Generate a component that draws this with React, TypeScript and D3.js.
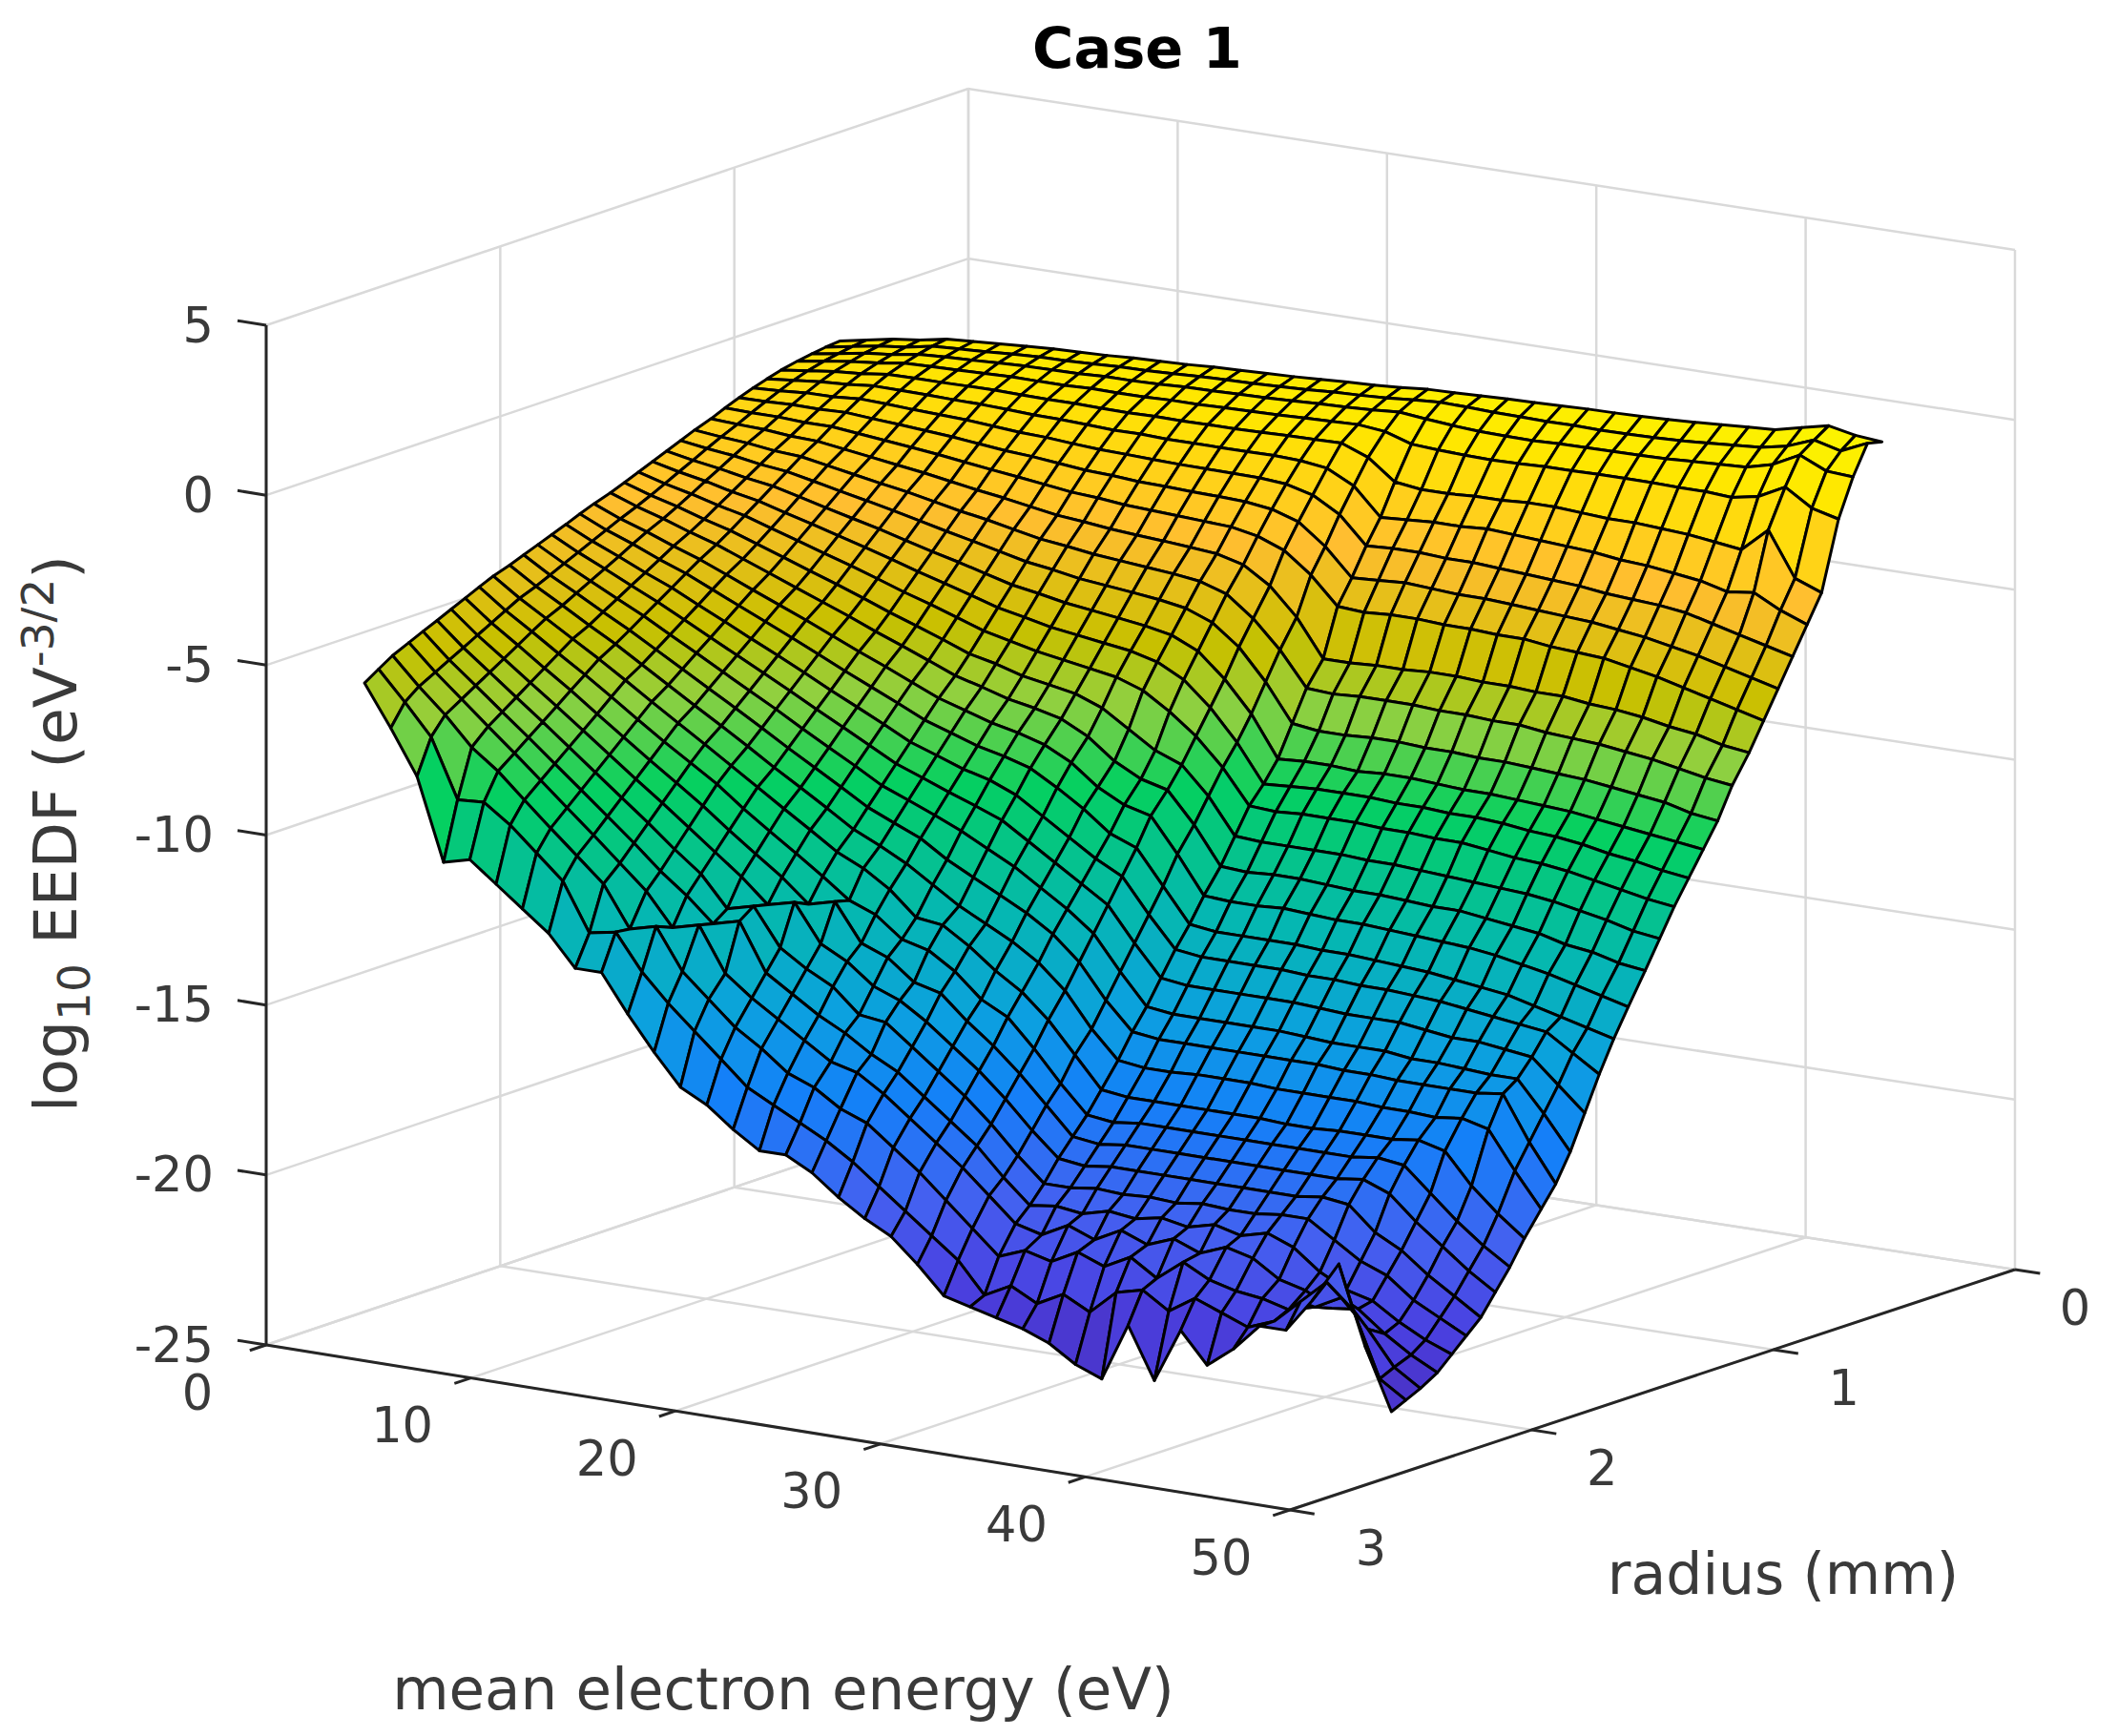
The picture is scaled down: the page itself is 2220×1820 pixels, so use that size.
import React from 'react'
import * as d3 from 'd3'

const energy = [0, 1.28, 2.56, 3.85, 5.13, 6.41, 7.69, 8.97, 10.26, 11.54, 12.82, 14.1, 15.38, 16.67, 17.95, 19.23, 20.51, 21.79, 23.08, 24.36, 25.64, 26.92, 28.21, 29.49, 30.77, 32.05, 33.33, 34.62, 35.9, 37.18, 38.46, 39.74, 41.03, 42.31, 43.59, 44.87, 46.15, 47.44, 48.72, 50]
const radius = [0.55, 0.61, 0.67, 0.73, 0.8, 0.86, 0.92, 0.98, 1.04, 1.1, 1.17, 1.23, 1.29, 1.35, 1.41, 1.47, 1.53, 1.6, 1.66, 1.72, 1.78, 1.84, 1.9, 1.96, 2.03, 2.09, 2.15, 2.21, 2.27, 2.33, 2.39, 2.46, 2.52, 2.58]

// log10 EEDF, one row per radius, one value per energy
const eedf = [
  [-1.15,-1,-.85,-.75,-.6,-.55,-.5,-.45,-.4,-.38,-.35,-.3,-.28,-.25,-.2,-.18,-.15,-.12,-.08,-.03,0,.05,.12,.14,.17,.2,.22,.24,.27,.28,.3,.33,.37,.42,.47,.52,.7,.88,.72,.65],
  [-1.19,-1.05,-.91,-.82,-.67,-.63,-.59,-.54,-.5,-.49,-.46,-.42,-.41,-.38,-.34,-.32,-.3,-.27,-.24,-.19,-.16,-.12,-.05,0,-.02,-.05,-.06,-.08,-.07,-.09,-.08,-.06,-.03,.02,.08,.14,.3,.6,.4,.75],
  [-1.25,-1.12,-.98,-.9,-.77,-.73,-.7,-.66,-.63,-.62,-.61,-.57,-.57,-.55,-.51,-.5,-.48,-.46,-.43,-.39,-.37,-.33,-.27,-.35,-.42,-.47,-.49,-.5,-.47,-.46,-.45,-.44,-.42,-.38,-.34,-.3,-.1,.3,-.05,-.1],
  [-1.32,-1.2,-1.09,-1.01,-.89,-.87,-.85,-.83,-.8,-.81,-.81,-.78,-.79,-.79,-.76,-.76,-.74,-.72,-.7,-.67,-.65,-.62,-.7,-.95,-1,-1.03,-1.05,-1.03,-1,-1,-.98,-.98,-.98,-1,-1,-1.05,-.9,-.5,-1,-1.2],
  [-1.42,-1.32,-1.22,-1.16,-1.06,-1.05,-1.05,-1.04,-1.03,-1.05,-1.06,-1.06,-1.08,-1.09,-1.07,-1.08,-1.07,-1.07,-1.05,-1.03,-1.02,-1,-1.3,-1.9,-2,-2,-1.95,-1.95,-1.9,-1.9,-1.95,-2,-2,-2.05,-2.1,-2.2,-2.3,-1.6,-2.9,-3.2],
  [-1.54,-1.46,-1.38,-1.34,-1.26,-1.27,-1.28,-1.3,-1.31,-1.34,-1.38,-1.39,-1.42,-1.46,-1.45,-1.48,-1.48,-1.48,-1.48,-1.47,-1.5,-1.6,-2,-2.8,-2.75,-2.7,-2.7,-2.65,-2.7,-2.75,-2.8,-2.85,-2.95,-3,-3.1,-3.2,-3.4,-3.3,-3.7,-4],
  [-1.67,-1.63,-1.57,-1.56,-1.5,-1.53,-1.57,-1.6,-1.63,-1.69,-1.75,-1.78,-1.84,-1.89,-1.91,-1.94,-1.96,-1.97,-1.98,-1.99,-2.05,-2.25,-2.7,-3.5,-3.45,-3.45,-3.5,-3.5,-3.55,-3.6,-3.65,-3.7,-3.8,-3.85,-3.9,-4,-4.2,-4.4,-4.6,-4.8],
  [-1.82,-1.81,-1.78,-1.79,-1.76,-1.82,-1.87,-1.93,-1.99,-2.07,-2.15,-2.2,-2.28,-2.36,-2.39,-2.45,-2.47,-2.5,-2.52,-2.55,-2.65,-2.9,-3.5,-4.3,-4.25,-4.2,-4.25,-4.3,-4.3,-4.35,-4.4,-4.45,-4.5,-4.6,-4.7,-4.85,-5,-5.2,-5.4,-5.6],
  [-1.98,-2,-2,-2.04,-2.04,-2.12,-2.2,-2.28,-2.37,-2.47,-2.57,-2.66,-2.76,-2.86,-2.91,-2.99,-3.03,-3.07,-3.11,-3.15,-3.3,-3.6,-4.2,-5,-5.05,-5,-5,-5.05,-5.05,-5.1,-5.1,-5.2,-5.25,-5.3,-5.45,-5.6,-5.8,-6,-6.2,-6.4],
  [-2.16,-2.2,-2.23,-2.3,-2.33,-2.44,-2.55,-2.66,-2.77,-2.9,-3.03,-3.14,-3.27,-3.4,-3.47,-3.56,-3.62,-3.67,-3.73,-3.8,-4,-4.5,-5.3,-6.4,-6.4,-6.35,-6.35,-6.3,-6.3,-6.35,-6.35,-6.4,-6.4,-6.5,-6.55,-6.65,-6.8,-6.9,-7.1,-7.2],
  [-2.33,-2.41,-2.47,-2.57,-2.62,-2.76,-2.9,-3.04,-3.17,-3.33,-3.49,-3.62,-3.78,-3.94,-4.03,-4.14,-4.21,-4.28,-4.35,-4.45,-4.7,-5.3,-6.1,-7.1,-7.15,-7.1,-7.1,-7.1,-7.15,-7.15,-7.2,-7.2,-7.3,-7.35,-7.4,-7.5,-7.6,-7.75,-7.9,-8],
  [-2.5,-2.61,-2.7,-2.83,-2.92,-3.08,-3.25,-3.41,-3.58,-3.76,-3.94,-4.11,-4.29,-4.47,-4.58,-4.72,-4.8,-4.88,-4.97,-5.1,-5.4,-6,-6.9,-8,-8.1,-8.1,-8.05,-8.05,-8.1,-8.1,-8.15,-8.15,-8.2,-8.25,-8.3,-8.4,-8.5,-8.6,-8.8,-8.9],
  [-2.67,-2.82,-2.94,-3.09,-3.21,-3.4,-3.6,-3.79,-3.98,-4.19,-4.4,-4.59,-4.8,-5.01,-5.14,-5.29,-5.39,-5.49,-5.6,-5.75,-6.1,-6.8,-7.7,-8.9,-8.85,-8.85,-8.9,-8.85,-8.85,-8.9,-8.95,-8.95,-9,-9.05,-9.1,-9.2,-9.3,-9.4,-9.5,-9.6],
  [-2.84,-3.02,-3.17,-3.36,-3.51,-3.73,-3.94,-4.16,-4.38,-4.61,-4.85,-5.07,-5.3,-5.54,-5.7,-5.87,-5.98,-6.09,-6.2,-6.4,-6.8,-7.5,-8.4,-9.5,-9.45,-9.4,-9.4,-9.4,-9.45,-9.45,-9.5,-9.5,-9.55,-9.65,-9.7,-9.8,-9.95,-10.05,-10.2,-10.3],
  [-3.01,-3.23,-3.41,-3.62,-3.8,-4.05,-4.29,-4.54,-4.78,-5.04,-5.31,-5.55,-5.81,-6.08,-6.26,-6.44,-6.57,-6.7,-6.83,-7.1,-7.6,-8.2,-9,-10,-10.05,-10,-10,-10,-10.05,-10.05,-10.1,-10.1,-10.2,-10.3,-10.35,-10.45,-10.6,-10.75,-10.9,-11],
  [-3.18,-3.43,-3.64,-3.89,-4.1,-4.37,-4.64,-4.92,-5.19,-5.47,-5.77,-6.04,-6.32,-6.62,-6.79,-7.02,-7.16,-7.3,-7.6,-8.1,-8.6,-8.9,-9.7,-10.75,-10.8,-10.8,-10.8,-10.8,-10.85,-10.85,-10.9,-10.95,-11,-11.05,-11.1,-11.2,-11.35,-11.5,-11.7,-11.8],
  [-3.34,-3.62,-3.86,-4.13,-4.37,-4.67,-4.97,-5.27,-5.57,-5.87,-6.19,-6.49,-6.8,-7.12,-7.33,-7.56,-7.71,-7.9,-8.3,-8.9,-9.3,-9.5,-10.4,-11.5,-11.55,-11.5,-11.5,-11.55,-11.6,-11.6,-11.65,-11.7,-11.7,-11.8,-11.9,-12,-12.2,-12.3,-12.5,-12.6],
  [-3.5,-3.82,-4.08,-4.38,-4.65,-4.97,-5.3,-5.62,-5.94,-6.28,-6.62,-6.94,-7.28,-7.62,-7.86,-8.1,-8.27,-8.5,-8.9,-9.5,-9.9,-10.1,-11.1,-12.2,-12.25,-12.25,-12.2,-12.25,-12.3,-12.3,-12.35,-12.4,-12.45,-12.5,-12.6,-12.75,-12.9,-13.1,-13.3,-13.5],
  [-3.66,-4.01,-4.3,-4.63,-4.92,-5.27,-5.62,-5.97,-6.32,-6.68,-7.05,-7.4,-7.75,-8.12,-8.38,-8.64,-8.82,-9.05,-9.5,-10,-10.6,-10.9,-11.9,-12.9,-13,-13,-13,-13,-13.05,-13.05,-13.1,-13.15,-13.2,-13.3,-13.4,-13.5,-13.7,-13.9,-14.1,-14.3],
  [-3.83,-4.2,-4.53,-4.88,-5.2,-5.58,-5.95,-6.33,-6.7,-7.08,-7.48,-7.85,-8.23,-8.63,-8.9,-9.18,-9.38,-9.7,-10.2,-10.7,-11.2,-11.6,-12.6,-13.5,-13.6,-13.6,-13.6,-13.6,-13.65,-13.65,-13.7,-13.7,-13.75,-13.8,-13.9,-14,-14.1,-14.2,-14.7,-15.2],
  [-3.99,-4.39,-4.75,-5.12,-5.48,-5.88,-6.28,-6.68,-7.08,-7.48,-7.9,-8.3,-8.71,-9.13,-9.42,-9.72,-10,-10.3,-10.8,-11.3,-11.8,-12.3,-13.3,-14.2,-14.3,-14.3,-14.3,-14.3,-14.3,-14.35,-14.4,-14.4,-14.4,-14.5,-14.6,-14.6,-14.7,-14.8,-15.5,-16.2],
  [-4.15,-4.58,-4.97,-5.37,-5.75,-6.18,-6.6,-7.03,-7.46,-7.88,-8.33,-8.76,-9.18,-9.63,-9.94,-10.26,-10.6,-11,-11.4,-11.9,-12.4,-13,-14,-14.9,-15,-15,-15,-15,-15,-15.05,-15.1,-15.1,-15.1,-15.2,-15.2,-15.25,-15.3,-15.3,-16.2,-17.2],
  [-4.31,-4.78,-5.19,-5.62,-6.03,-6.48,-6.93,-7.38,-7.83,-8.29,-8.76,-9.21,-9.66,-10.13,-10.47,-10.8,-11.3,-11.7,-12.1,-12.5,-13,-13.7,-14.7,-15.5,-15.6,-15.6,-15.6,-15.6,-15.6,-15.6,-15.6,-15.65,-15.65,-15.7,-15.7,-15.7,-15.7,-15.6,-16.9,-18],
  [-4.47,-4.97,-5.41,-5.87,-6.3,-6.78,-7.26,-7.74,-8.21,-8.69,-9.19,-9.66,-10.14,-10.64,-11,-11.4,-11.9,-12.4,-12.8,-13.2,-13.7,-14.4,-15.4,-16.2,-16.3,-16.3,-16.25,-16.25,-16.25,-16.3,-16.3,-16.3,-16.3,-16.35,-16.35,-16.4,-16.3,-16.5,-17.6,-18.6],
  [-4.63,-5.16,-5.63,-6.11,-6.58,-7.08,-7.59,-8.09,-8.59,-9.1,-9.61,-10.12,-10.62,-11.14,-11.5,-12,-12.7,-12.8,-13.3,-13.9,-14.4,-15.1,-16,-16.9,-17,-17,-17,-17,-17,-17,-17.05,-17.05,-17,-17,-17,-16.9,-17.1,-18,-18.7,-19.3],
  [-4.81,-5.38,-5.88,-6.4,-6.9,-7.43,-7.97,-8.5,-9,-9.5,-10.1,-10.64,-11.17,-11.72,-12.3,-12.6,-13.2,-13.4,-13.9,-14.6,-15,-15.8,-16.7,-17.5,-17.6,-17.5,-17.5,-17.5,-17.5,-17.5,-17.5,-17.5,-17.5,-17.5,-17.4,-17.5,-18.2,-18.9,-19.5,-20],
  [-5,-5.61,-6.14,-6.69,-7.22,-7.79,-8.35,-8.91,-9.45,-10,-10.6,-11.17,-11.73,-12.4,-12.2,-13.3,-13.6,-14.2,-14.4,-15.1,-15.7,-16.4,-17.2,-18,-18.1,-18,-18,-18,-18,-18,-18,-18,-18,-18,-17.9,-18.2,-18.9,-19.5,-20.1,-20.6],
  [-5.19,-5.83,-6.4,-6.98,-7.55,-8.14,-8.73,-9.32,-9.9,-10.5,-11.1,-11.7,-12.4,-12.2,-13.3,-13.7,-14.3,-14.6,-15.1,-15.7,-16.3,-17,-17.8,-18.5,-18.6,-18.5,-18.5,-18.5,-18.5,-18.5,-18.5,-18.5,-18.5,-18.4,-18.5,-19.2,-19.6,-20.2,-20.7,-21.2],
  [-5.38,-6.06,-6.66,-7.27,-7.87,-8.49,-9.11,-9.73,-10.35,-11,-11.6,-12.5,-12.3,-13.4,-13.9,-14.3,-15,-15.1,-15.7,-16.3,-16.9,-17.6,-18.4,-19.1,-19.1,-19,-19.05,-19,-19.05,-18.95,-19,-19,-18.9,-18.9,-19.4,-19.9,-20.2,-20.8,-21.2,-21.6],
  [-5.56,-6.28,-6.91,-7.56,-8.19,-8.84,-9.49,-10.14,-10.8,-11.5,-12.1,-12.8,-12.6,-14,-14.5,-15,-15.4,-15.9,-16.3,-16.9,-17.5,-18.1,-18.9,-19.6,-19.5,-19.6,-19.4,-19.5,-19.35,-19.5,-19.3,-19.5,-19.3,-19.6,-20.2,-20.6,-20.8,-21.3,-21.7,-22],
  [-5.75,-6.5,-7.17,-7.85,-8.51,-9.19,-9.87,-10.55,-11.25,-11.95,-12.9,-12.7,-14,-14.6,-15.1,-15.6,-16.1,-16.3,-16.8,-17.4,-18,-18.6,-19.3,-20,-20.2,-19.8,-20.1,-19.7,-20,-19.7,-20,-19.7,-19.9,-20.4,-20.6,-21,-20.9,-21.5,-22,-22.4],
  [-5.97,-6.76,-7.47,-8.3,-8.88,-9.6,-10.31,-11,-11.7,-12.9,-12.7,-13.9,-14.6,-15.3,-15.8,-16.4,-16.7,-17.2,-17.5,-18.1,-18.7,-19.4,-20.1,-20.8,-20.5,-20.7,-20.3,-20.6,-20.2,-20.7,-20.1,-20.5,-20.7,-20.8,-21,-20.8,-20.4,-21.2,-22.2,-22.7],
  [-6.23,-7.08,-7.98,-9.7,-9.65,-10.2,-10.9,-11.6,-13,-12.85,-13.9,-14.7,-15.4,-16.1,-16.8,-17.2,-17.6,-18,-18.5,-19.1,-19.7,-20.3,-20.9,-21.8,-21.4,-21.8,-21.4,-21.8,-21.1,-20.9,-21.4,-20.9,-21.2,-21.5,-21.2,-20.5,-19.8,-20.5,-22.4,-22.9],
  [-6.5,-7.7,-9,-11.4,-11.2,-11.8,-12.4,-13,-13.9,-13.9,-15,-16,-16.9,-17.3,-17.9,-18.4,-18.4,-18.8,-19.4,-19.9,-20.3,-21,-21.8,-22,-22.2,-22.4,-22.7,-23.2,-23.5,-21.8,-23.3,-21.7,-22.6,-22,-21.2,-21.2,-20.2,-19,-21.3,-23.1],
]

const energyTicks = [0, 10, 20, 30, 40, 50]
const radiusTicks = [0, 1, 2, 3]
const zTicks = [-25, -20, -15, -10, -5, 0, 5]

// colormap stops matched to the reference, low to high
const colorStops = [-23.5, -21.5, -19.5, -17, -15, -12.5, -9.5, -7.5, -6, -3.5, -0.8, 0.9]
const colorValues = ['#4a2bb8', '#4a40e0', '#4460f0', '#1480f8', '#0ca0e0', '#05b8b0', '#05d060', '#90d040', '#c8c000', '#ffbe30', '#ffe600', '#fbf500']

const W = 2220
const H = 1820
const font = '"DejaVu Sans"'
const tickColor = '#3a3a3a'

// floor corners of the axes box, in pixels
const floor = { e0r3: [279, 1410], e50r3: [1352, 1583], e50r0: [2112, 1331], e0r0: [1015, 1162] }

const uScale = d3.scaleLinear().domain([0, 50]).range([0, 1])
const vScale = d3.scaleLinear().domain([3, 0]).range([0, 1])
const zScale = d3.scaleLinear().domain([-25, 5]).range([0, -1069])

const colorScale = d3.scaleLinear<string>().domain(colorStops).range(colorValues).clamp(true)

const project = (e: number, r: number, z: number): [number, number] => {
  const u = uScale(e)
  const v = vScale(r)
  const blend = (k: number) =>
    (1 - u) * (1 - v) * floor.e0r3[k] + u * (1 - v) * floor.e50r3[k] + u * v * floor.e50r0[k] + (1 - u) * v * floor.e0r0[k]
  return [blend(0), blend(1) + zScale(z)]
}

const line = d3.line<[number, number]>()
const grid = '#d9d9d9'

const Segment = ({ a, b, color, width }: { a: [number, number]; b: [number, number]; color: string; width: number }) => (
  <path d={line([a, b])!} stroke={color} strokeWidth={width} fill="none" />
)

export default function App() {
  // back to front: low energy and low radius are furthest from the viewer
  const cells: { key: string; d: string; fill: string; depth: number }[] = []
  for (let j = 0; j < radius.length - 1; j++) {
    for (let i = 0; i < energy.length - 1; i++) {
      const corners: [number, number, number][] = [
        [energy[i], radius[j], eedf[j][i]],
        [energy[i + 1], radius[j], eedf[j][i + 1]],
        [energy[i + 1], radius[j + 1], eedf[j + 1][i + 1]],
        [energy[i], radius[j + 1], eedf[j + 1][i]],
      ]
      cells.push({
        key: `${i}-${j}`,
        d: line(corners.map((c) => project(c[0], c[1], c[2])))! + 'Z',
        fill: colorScale(d3.mean(corners, (c) => c[2])!),
        depth: uScale(energy[i]) + (radius[j] / 3),
      })
    }
  }
  cells.sort((a, b) => a.depth - b.depth)

  return (
    <svg width={W} height={H} style={{ position: 'absolute', left: 0, top: 0, background: '#fff' }} fontFamily={font}>
      <g>
        {zTicks.map((z) => (
          <g key={`wall-${z}`}>
            <Segment a={project(0, 3, z)} b={project(0, 0, z)} color={grid} width={2.5} />
            <Segment a={project(0, 0, z)} b={project(50, 0, z)} color={grid} width={2.5} />
          </g>
        ))}
        {radiusTicks.map((r) => (
          <g key={`rg-${r}`}>
            <Segment a={project(0, r, -25)} b={project(0, r, 5)} color={grid} width={2.5} />
            <Segment a={project(0, r, -25)} b={project(50, r, -25)} color={grid} width={2.5} />
          </g>
        ))}
        {energyTicks.map((e) => (
          <g key={`eg-${e}`}>
            <Segment a={project(e, 0, -25)} b={project(e, 0, 5)} color={grid} width={2.5} />
            <Segment a={project(e, 0, -25)} b={project(e, 3, -25)} color={grid} width={2.5} />
          </g>
        ))}
      </g>

      <g stroke="#000" strokeWidth={3} strokeLinejoin="round">
        {cells.map((c) => (
          <path key={c.key} d={c.d} fill={c.fill} />
        ))}
      </g>

      <g>
        <Segment a={project(0, 3, -25)} b={project(0, 3, 5)} color="#262626" width={3} />
        <Segment a={project(0, 3, -25)} b={project(50, 3, -25)} color="#262626" width={3} />
        <Segment a={project(50, 3, -25)} b={project(50, 0, -25)} color="#262626" width={3} />
        {zTicks.map((z) => (
          <g key={`zt-${z}`}>
            <Segment a={project(0, 3, z)} b={project(-1.4, 3, z)} color="#262626" width={3} />
            <text x={224} y={project(0, 3, z)[1]} textAnchor="end" dominantBaseline="central" fontSize={51} fill={tickColor}>{z}</text>
          </g>
        ))}
        {energyTicks.map((e) => {
          const p = project(e, 3, -25)
          return (
            <g key={`et-${e}`}>
              <Segment a={p} b={project(e, 3.07, -25)} color="#262626" width={3} />
              <text x={p[0] - 72} y={p[1] + 50} textAnchor="middle" dominantBaseline="central" fontSize={51} fill={tickColor}>{e}</text>
            </g>
          )
        })}
        {radiusTicks.map((r) => {
          const p = project(50, r, -25)
          return (
            <g key={`rt-${r}`}>
              <Segment a={p} b={project(51.2, r, -25)} color="#262626" width={3} />
              <text x={p[0] + 74 + (r === 3 ? 11 : r === 0 ? -11 : 0)} y={p[1] + 40} textAnchor="middle" dominantBaseline="central" fontSize={51} fill={tickColor}>{r}</text>
            </g>
          )
        })}
      </g>

      <text x={1192} y={50} textAnchor="middle" dominantBaseline="central" fontSize={59} fontWeight="bold" fill="#000">Case 1</text>
      <text x={821} y={1770} textAnchor="middle" dominantBaseline="central" fontSize={61} fill={tickColor}>mean electron energy (eV)</text>
      <text x={1869} y={1650} textAnchor="middle" dominantBaseline="central" fontSize={60} fill={tickColor}>radius (mm)</text>
      <text transform="translate(80,874) rotate(-90)" textAnchor="middle" fontSize={63} fill={tickColor}>
        log<tspan fontSize={47} dy={14}>10</tspan>
        <tspan dy={-14}> EEDF (eV</tspan>
        <tspan fontSize={47} dy={-24}>-3/2</tspan>
        <tspan dy={24}>)</tspan>
      </text>
    </svg>
  )
}
